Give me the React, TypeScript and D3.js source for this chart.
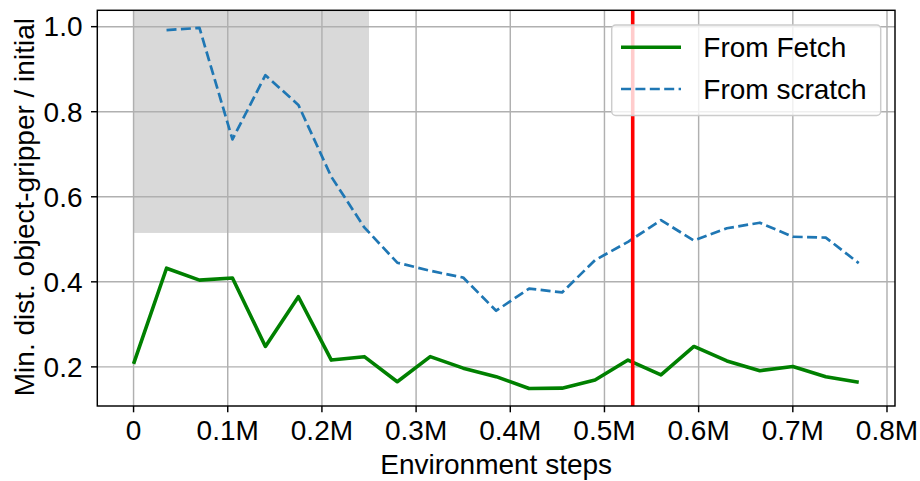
import React from "react";
import * as d3 from "d3";

const steps = [0, 35000, 70000, 105000, 140000, 175000, 210000, 245000, 280000, 315000, 350000, 385000, 420000, 455000, 490000, 525000, 560000, 595000, 630000, 665000, 700000, 735000, 770000];
const fromFetch = [0.207, 0.432, 0.404, 0.409, 0.248, 0.365, 0.216, 0.224, 0.165, 0.224, 0.197, 0.177, 0.149, 0.150, 0.169, 0.216, 0.181, 0.248, 0.214, 0.191, 0.201, 0.177, 0.164];
const fromScratch: (number | null)[] = [null, 0.992, 0.997, 0.735, 0.886, 0.816, 0.647, 0.528, 0.445, 0.426, 0.410, 0.332, 0.384, 0.375, 0.451, 0.494, 0.545, 0.497, 0.526, 0.539, 0.506, 0.504, 0.444];
const xTicks = [0, 100000, 200000, 300000, 400000, 500000, 600000, 700000, 800000];
const xTickLabels = ["0", "0.1M", "0.2M", "0.3M", "0.4M", "0.5M", "0.6M", "0.7M", "0.8M"];
const yTicks = [0.2, 0.4, 0.6, 0.8, 1.0];
const yTickLabels = ["0.2", "0.4", "0.6", "0.8", "1.0"];
const shadeX = [0, 250000];
const shadeYMin = 0.515;
const vLineX = 530000;
const legendLabels = ["From Fetch", "From scratch"];

const W = 920, H = 481;
const L = 97.3, R = 895, T = 10.3, B = 406;
const FONT = "'Liberation Sans', Arial, Helvetica, sans-serif";
const FS = 28;

export default function App() {
  const x = d3.scaleLinear().domain([-38500, 808500]).range([L, R]);
  const y = d3.scaleLinear().domain([0.108, 1.0385]).range([B, T]);

  const lineFetch = d3.line<number>().x((_, i) => x(steps[i])).y((d) => y(d))(fromFetch) || "";
  const lineScratch =
    d3
      .line<number | null>()
      .defined((d) => d !== null)
      .x((_, i) => x(steps[i]))
      .y((d) => y(d as number))(fromScratch) || "";

  const green = "#008000";
  const blue = "#1f77b4";
  const grid = "#b0b0b0";

  return (
    <svg width={W} height={H} style={{ position: "absolute", left: 0, top: 0, background: "#fff" }} fontFamily={FONT}>
      <rect x={0} y={0} width={W} height={H} fill="#fff" />
      <defs>
        <clipPath id="plot">
          <rect x={L} y={T} width={R - L} height={B - T} />
        </clipPath>
      </defs>
      <g clipPath="url(#plot)">
        <rect
          x={x(shadeX[0])}
          y={T}
          width={x(shadeX[1]) - x(shadeX[0])}
          height={y(shadeYMin) - T}
          fill="#d9d9d9"
        />
        {xTicks.map((t) => (
          <line key={"gx" + t} x1={x(t)} x2={x(t)} y1={T} y2={B} stroke={grid} strokeWidth={1.45} />
        ))}
        {yTicks.map((t) => (
          <line key={"gy" + t} x1={L} x2={R} y1={y(t)} y2={y(t)} stroke={grid} strokeWidth={1.45} />
        ))}
        <path d={lineFetch} fill="none" stroke={green} strokeWidth={3.6} strokeLinejoin="round" strokeLinecap="butt" />
        <path d={lineScratch} fill="none" stroke={blue} strokeWidth={2.7} strokeDasharray="10,4.4" strokeLinejoin="round" />
        <line x1={x(vLineX)} x2={x(vLineX)} y1={T} y2={B} stroke="#ff0000" strokeWidth={3.6} />
      </g>
      <rect x={L} y={T} width={R - L} height={B - T} fill="none" stroke="#000" strokeWidth={1.45} />
      {xTicks.map((t, i) => (
        <g key={"xt" + t}>
          <line x1={x(t)} x2={x(t)} y1={B} y2={B + 6.3} stroke="#000" strokeWidth={1.45} />
          <text x={x(t)} y={440} textAnchor="middle" fontSize={FS} fill="#000">
            {xTickLabels[i]}
          </text>
        </g>
      ))}
      {yTicks.map((t, i) => (
        <g key={"yt" + t}>
          <line x1={L - 6.3} x2={L} y1={y(t)} y2={y(t)} stroke="#000" strokeWidth={1.45} />
          <text x={82.5} y={y(t) + 9.8} textAnchor="end" fontSize={FS} fill="#000">
            {yTickLabels[i]}
          </text>
        </g>
      ))}
      <text x={(L + R) / 2} y={474} textAnchor="middle" fontSize={FS} fill="#000">
        Environment steps
      </text>
      <text transform={`translate(33.5, ${(T + B) / 2 - 1}) rotate(-90)`} textAnchor="middle" fontSize={FS} fill="#000">
        Min. dist. object-gripper / initial
      </text>
      <g>
        <rect x={611.7} y={25} width={269} height={90.5} rx={4} ry={4} fill="#fff" fillOpacity={0.8} stroke="#cccccc" strokeWidth={1.45} />
        <line x1={621} x2={681} y1={47.3} y2={47.3} stroke={green} strokeWidth={3.6} />
        <line x1={621} x2={681} y1={89} y2={89} stroke={blue} strokeWidth={2.7} strokeDasharray="10,4.4" />
        <text x={703.3} y={56.8} fontSize={FS} fill="#000">
          {legendLabels[0]}
        </text>
        <text x={703.3} y={98.5} fontSize={FS} fill="#000">
          {legendLabels[1]}
        </text>
      </g>
    </svg>
  );
}
